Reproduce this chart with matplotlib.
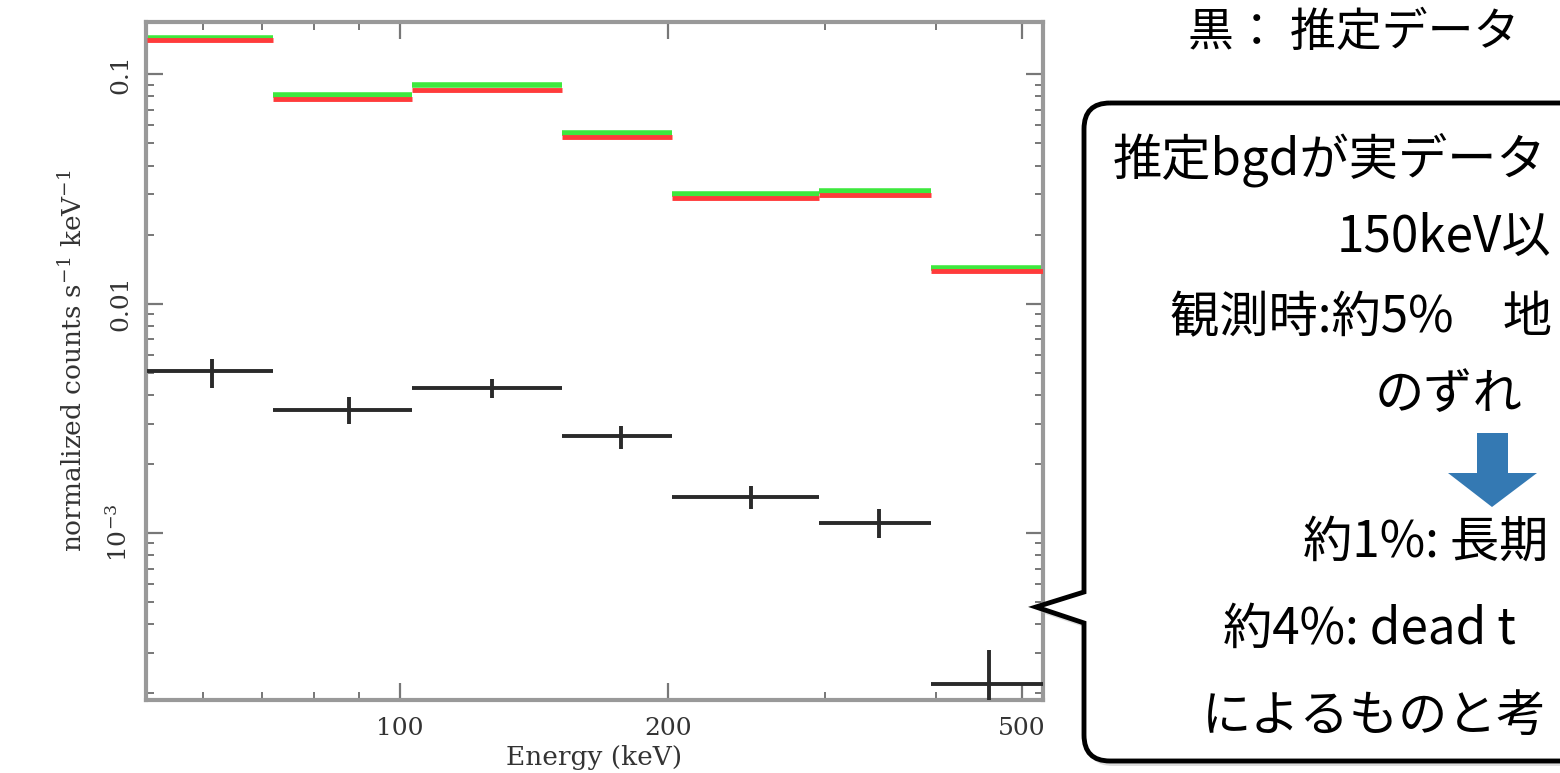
import numpy as np
import matplotlib
matplotlib.use('Agg')
from matplotlib import pyplot as plt
from matplotlib.path import Path
from matplotlib.patches import PathPatch, Polygon

## Données

e_lo = [52, 72, 103, 152, 202, 296, 395]
e_hi = [72, 103, 152, 202, 296, 395, 528]
e_mid = [61.5, 87.5, 127, 177, 248, 345, 459]

green = [0.1446, 0.0810, 0.0902, 0.0552, 0.0302, 0.0309, 0.01426]
red = [0.1408, 0.0778, 0.0851, 0.0531, 0.0290, 0.0299, 0.0139]

black = [0.00506, 0.00344, 0.00427, 0.00265, 0.00144, 0.00111, 2.19e-4]
black_up = [0.00575, 0.00393, 0.00470, 0.00293, 0.00160, 0.00127, 3.08e-4]
black_dn = [0.00430, 0.00299, 0.00389, 0.00233, 0.00127, 0.00095, 1.5e-4]

x_lim = (51.8, 528)
y_lim = (1.87e-4, 0.169)

title_txt = "黒： 推定データ"
box_lines = ["推定bgdが実データ", "150keV以", "観測時:約5%　地", "のずれ",
             "約1%: 長期", "約4%: dead t", "によるものと考"]

## Figure

W, H = 1560, 773
fig = plt.figure(figsize=(W / 100, H / 100), dpi=100)
plt.rcParams['mathtext.fontset'] = 'dejavuserif'

def fx(px):
    return px / W

def fy(py):
    return 1 - py / H

ax = fig.add_axes([fx(146), fy(700), fx(1043) - fx(146), fy(22) - fy(700)])
ax.set_xscale('log')
ax.set_yscale('log')
ax.set_xlim(*x_lim)
ax.set_ylim(*y_lim)

mid = np.array(e_mid)
xerr = [mid - np.array(e_lo), np.array(e_hi) - mid]

ax.errorbar(e_mid, green, xerr=xerr, fmt='none', ecolor='#3ee83e', elinewidth=4, capsize=0, zorder=2)
ax.errorbar(e_mid, red, xerr=xerr, fmt='none', ecolor='#ff3b3b', elinewidth=3.5, capsize=0, zorder=3)

b = np.array(black)
yerr = [b - np.array(black_dn), np.array(black_up) - b]
ax.errorbar(e_mid, black, xerr=xerr, yerr=yerr, fmt='none', ecolor='#2a2a2a',
            elinewidth=2.8, capsize=0, zorder=4)

gris = '#999999'
for s in ax.spines.values():
    s.set_color(gris)
    s.set_linewidth(3)
ax.tick_params(which='both', direction='in', top=True, right=True, color='#777777',
               labelcolor='#333333', labelsize=18)
ax.tick_params(which='major', length=12, width=1.6)
ax.tick_params(which='minor', length=6, width=1.4)
ax.tick_params(axis='x', pad=12)
ax.tick_params(axis='y', pad=10)

ax.set_xticks([100, 200, 500])
ax.set_xticklabels(['100', '200', '500'], family='DejaVu Serif')
ax.set_xticks([60, 70, 80, 90, 300, 400], minor=True)
ax.set_xticklabels([], minor=True)

ax.set_yticks([0.1, 0.01, 0.001])
ax.set_yticklabels(['0.1', '0.01', '$10^{-3}$'], rotation=90, va='center', family='DejaVu Serif')
ax.yaxis.set_minor_formatter(plt.NullFormatter())

ax.set_xlabel('Energy (keV)', family='DejaVu Serif', fontsize=19, color='#333333', labelpad=4)
ax.set_ylabel('normalized counts s$^{-1}$ keV$^{-1}$', family='DejaVu Serif', fontsize=19,
              color='#333333', labelpad=14)

## Bulle de texte

cjk = ['Noto Sans CJK JP', 'DejaVu Sans']

fig.text(fx(1188), fy(33), title_txt, family=cjk, fontsize=33, ha='left', va='center', color='black')

L, T, R, B, r = 1084, 103, 1640, 761, 26
pts = [(L + r, T), (R, T), (R, B), (L + r, B), (L, B), (L, B - r),
       (L, 623), (1036, 607), (L, 592), (L, T + r), (L, T), (L + r, T)]
codes = [Path.MOVETO, Path.LINETO, Path.LINETO, Path.LINETO, Path.CURVE3, Path.CURVE3,
         Path.LINETO, Path.LINETO, Path.LINETO, Path.LINETO, Path.CURVE3, Path.CURVE3]

def to_fig(p, dx=0, dy=0):
    return [(fx(x + dx), fy(y + dy)) for x, y in p]

ombre = PathPatch(Path(to_fig(pts, 3, 5), codes), transform=fig.transFigure,
                  facecolor='#bbbbbb', edgecolor='none', alpha=0.5, zorder=1)
bulle = PathPatch(Path(to_fig(pts), codes), transform=fig.transFigure,
                  facecolor='white', edgecolor='black', linewidth=3.5, zorder=2)
fig.patches.extend([ombre, bulle])

line_x = [1113, 1337, 1170, 1375, 1303, 1223, 1202]
line_y = [160, 238, 318, 395, 543, 630, 717]
for t, x, y in zip(box_lines, line_x, line_y):
    fig.text(fx(x), fy(y), t, family=cjk, fontsize=35.5, ha='left', va='center', color='black', zorder=3)

fleche = Polygon(to_fig([(1477, 433), (1508, 433), (1508, 473), (1537, 473), (1492, 507),
                         (1448, 473), (1477, 473)]),
                 closed=True, transform=fig.transFigure, facecolor='#3479b3', edgecolor='none', zorder=3)
fig.patches.append(fleche)

fig.savefig('out.png', dpi=100)
